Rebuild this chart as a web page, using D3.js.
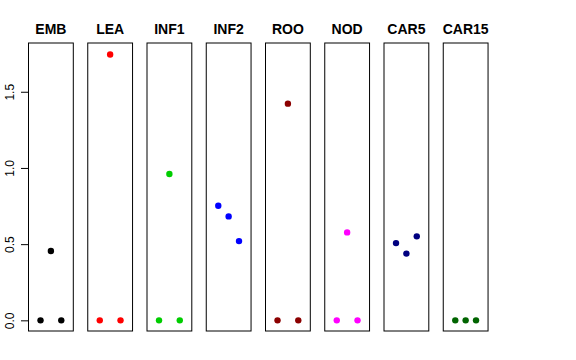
<!DOCTYPE html>
<html>
<head>
<meta charset="utf-8">
<script src="https://cdn.jsdelivr.net/npm/d3@7"></script>
<style>
  body { margin: 0; background: #fff; }
  svg { display: block; }
</style>
</head>
<body>
<script>
// Data
const panels = ["EMB", "LEA", "INF1", "INF2", "ROO", "NOD", "CAR5", "CAR15"];
const colors = ["#000000", "#ff0000", "#00cd00", "#0000ff", "#8b0000", "#ff00ff", "#000080", "#006400"];
const emb = [0, 0.455, 0];
const lea = [0, 1.745, 0];
const inf1 = [0, 0.96, 0];
const inf2 = [0.752, 0.682, 0.52];
const roo = [0, 1.422, 0];
const nod = [0, 0.577, 0];
const car5 = [0.507, 0.438, 0.551];
const car15 = [0, 0, 0];
const series = [emb, lea, inf1, inf2, roo, nod, car5, car15];
const yTicks = [0, 0.5, 1, 1.5];

const width = 576;
const height = 360;
const fontFamily = "'Liberation Sans', Arial, Helvetica, sans-serif";

const svg = d3.select("body").append("svg")
  .attr("width", width)
  .attr("height", height);

// Layout of the small multiples
const panelW = 44.8;
const panelStep = 59.25;
const firstLeft = 28.5;
const plotTop = 43;
const plotBottom = 331;

const y = d3.scaleLinear()
  .domain([-0.07, 1.82])
  .range([plotBottom, plotTop]);

// shared y axis on the left
svg.append("g")
  .attr("transform", `translate(${firstLeft},0)`)
  .call(d3.axisLeft(y).tickValues(yTicks).tickFormat(d3.format(".1f")).tickSize(7.5))
  .call(g => g.select(".domain").attr("d", `M0,${y(0)}V${y(1.5)}`).attr("stroke", "#000"))
  .call(g => g.selectAll(".tick line").attr("stroke", "#000"))
  .call(g => g.selectAll(".tick text")
    .attr("transform", "rotate(-90)")
    .attr("x", 0)
    .attr("y", -15)
    .attr("dy", 0)
    .attr("text-anchor", "middle")
    .attr("fill", "#000")
    .style("font-family", fontFamily)
    .style("font-size", "12px"));

panels.forEach((name, i) => {
  const left = firstLeft + i * panelStep;
  const x = d3.scaleLinear()
    .domain([-0.16, 4.16])
    .range([left, left + panelW]);

  const g = svg.append("g");

  // panel box
  g.append("rect")
    .attr("x", left)
    .attr("y", plotTop)
    .attr("width", panelW)
    .attr("height", plotBottom - plotTop)
    .attr("fill", "none")
    .attr("stroke", "#000")
    .attr("stroke-width", 1);

  // points
  g.selectAll("circle")
    .data(series[i])
    .join("circle")
    .attr("cx", (d, j) => x(j + 1))
    .attr("cy", d => y(d))
    .attr("r", 3.2)
    .attr("fill", colors[i]);

  // panel title
  g.append("text")
    .attr("x", left + panelW / 2)
    .attr("y", 34.3)
    .attr("text-anchor", "middle")
    .attr("font-weight", "bold")
    .attr("font-size", "14px")
    .style("font-family", fontFamily)
    .text(name);
});
</script>
</body>
</html>
